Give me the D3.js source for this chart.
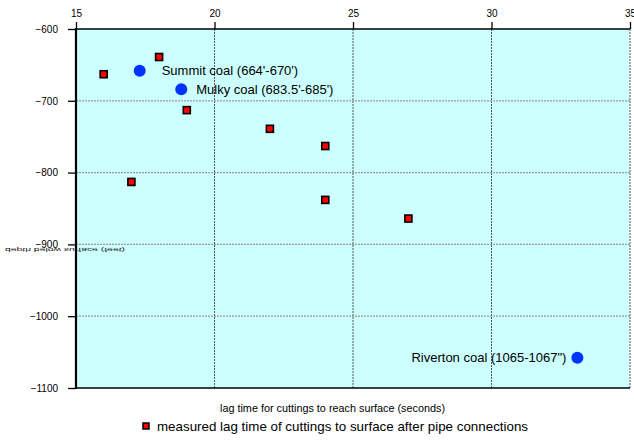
<!DOCTYPE html>
<html><head><meta charset="utf-8">
<script src="https://cdn.jsdelivr.net/npm/d3@7"></script>
<style>body{margin:0;background:#fff}svg{display:block}text{font-family:"Liberation Sans",Arial,sans-serif}</style>
</head><body>
<svg id="c" width="634" height="441"></svg>
<script>
const lagTimes = [16, 18, 19, 17, 22, 24, 24, 27];
const lagDepths = [-663, -639, -713, -813, -739, -763, -838, -864];
const coalNames = ["Summit coal (664'-670')", "Mulky coal (683.5'-685')", "Riverton coal (1065-1067\")"];
const coalTimes = [17.3, 18.8, 33.1];
const coalDepths = [-658, -684, -1058];
const xTicks = [15, 20, 25, 30, 35];
const yTicks = [-600, -700, -800, -900, -1000, -1100];
const xTitle = "lag time for cuttings to reach surface (seconds)";
const yTitle = "depth below surface (feet)";
const legendText = "measured lag time of cuttings to surface after pipe connections";

const svg = d3.select("#c");
const L = 76, R = 630, T = 29, B = 388;
const x = d3.scaleLinear().domain([15, 35]).range([L, R]);
const y = d3.scaleLinear().domain([-600, -1100]).range([T, B]);

svg.append("rect").attr("x", L).attr("y", T).attr("width", R - L).attr("height", B - T).attr("fill", "#ccffff");

// grid
svg.append("g").selectAll("line").data(xTicks.slice(1)).join("line")
  .attr("x1", d => x(d)).attr("x2", d => x(d)).attr("y1", T).attr("y2", B)
  .attr("stroke", "#555").attr("stroke-width", 1).attr("stroke-dasharray", "2,1");
svg.append("g").selectAll("line").data(yTicks.slice(1, -1)).join("line")
  .attr("x1", L).attr("x2", R).attr("y1", d => y(d)).attr("y2", d => y(d))
  .attr("stroke", "#999").attr("stroke-width", 1.2).attr("stroke-dasharray", "2,1");

// border
svg.append("line").attr("x1", L).attr("x2", R).attr("y1", T).attr("y2", T).attr("stroke", "#000").attr("stroke-width", 1.5);
svg.append("line").attr("x1", L).attr("x2", R).attr("y1", B).attr("y2", B).attr("stroke", "#000").attr("stroke-width", 1.5);

// axes
const xAxis = svg.append("g").attr("transform", `translate(0,${T})`)
  .call(d3.axisTop(x).tickValues(xTicks).tickFormat(d3.format("d")).tickSize(7).tickPadding(5));
const yAxis = svg.append("g").attr("transform", `translate(${L},0)`)
  .call(d3.axisLeft(y).tickValues(yTicks).tickFormat(d3.format("d")).tickSize(8).tickPadding(10));
[xAxis, yAxis].forEach(g => {
  g.select(".domain").remove();
  g.selectAll("line").attr("stroke", "#000").attr("stroke-width", 1.3);
  g.selectAll("text").attr("font-size", 10).attr("fill", "#000").attr("font-family", "'Liberation Sans', Arial, sans-serif");
});
svg.append("line").attr("x1", L).attr("x2", L).attr("y1", T - 1).attr("y2", B + 1).attr("stroke", "#000").attr("stroke-width", 2.2);

// y title (squashed, flipped as in reference)
svg.append("text").attr("transform", `translate(5,249) scale(1,-0.5)`)
  .attr("font-size", 10).attr("fill", "#222").attr("textLength", 120).attr("lengthAdjust", "spacingAndGlyphs")
  .attr("dominant-baseline", "middle").text(yTitle);

// red squares
svg.append("g").selectAll("rect").data(lagTimes.map((t, i) => [t, lagDepths[i]])).join("rect")
  .attr("x", d => x(d[0]) - 3.5).attr("y", d => y(d[1]) - 3.5).attr("width", 7).attr("height", 7)
  .attr("fill", "#ff0000").attr("stroke", "#000").attr("stroke-width", 1.6);

// blue circles
svg.append("g").selectAll("circle").data(coalTimes.map((t, i) => [t, coalDepths[i]])).join("circle")
  .attr("cx", d => x(d[0])).attr("cy", d => y(d[1])).attr("r", 6).attr("fill", "#0033ff");

// labels
const lab = svg.append("g").attr("font-size", 13).attr("fill", "#000");
lab.append("text").attr("x", x(coalTimes[0]) + 22).attr("y", y(coalDepths[0]) + 4.5).text(coalNames[0]);
lab.append("text").attr("x", x(coalTimes[1]) + 15).attr("y", y(coalDepths[1]) + 4.5).text(coalNames[1]);
lab.append("text").attr("x", x(coalTimes[2]) - 11).attr("y", y(coalDepths[2]) + 4.5).attr("text-anchor", "end").text(coalNames[2]);

// x title
svg.append("text").attr("x", 220).attr("y", 412).attr("font-size", 10).attr("textLength", 225)
  .attr("lengthAdjust", "spacingAndGlyphs").text(xTitle);

// legend
svg.append("rect").attr("x", 143).attr("y", 423).attr("width", 6).attr("height", 6)
  .attr("fill", "#ff0000").attr("stroke", "#000").attr("stroke-width", 1.5);
svg.append("text").attr("x", 157).attr("y", 431).attr("font-size", 13).attr("textLength", 371)
  .attr("lengthAdjust", "spacingAndGlyphs").text(legendText);
</script>
</body></html>
